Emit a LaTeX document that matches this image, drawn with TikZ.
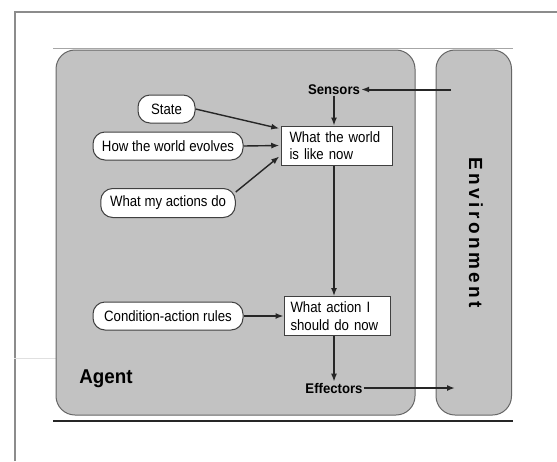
\documentclass[tikz,border=0pt]{standalone}
\usepackage{fontspec}
\setmainfont{Liberation Sans}
\newfontfamily\boxfont[FakeStretch=0.88]{Liberation Sans}
\newfontfamily\lblfont[FakeStretch=0.94]{Liberation Sans}
\newfontfamily\envfont[LetterSpace=18]{Liberation Sans}
\usetikzlibrary{arrows.meta,calc}
\begin{document}
\begin{tikzpicture}[x=1pt,y=-1pt,
  rbox/.style={draw=black!75,line width=1pt,fill=white,rounded corners=12pt,inner sep=0pt,font=\boxfont\fontsize{15}{17}\selectfont},
  sbox/.style={draw=black!75,line width=1pt,fill=white,inner sep=0pt,font=\boxfont\fontsize{15}{17.3}\selectfont,align=left},
  lbl/.style={font=\lblfont\fontsize{14}{16}\selectfont\bfseries,inner sep=1pt},
  arr/.style={-{Latex[length=8pt,width=6pt]},line width=1.4pt,black!85},
  big/.style={-{Latex[length=8pt,width=6pt]},line width=2pt,black!85},
  panel/.style={draw=black!60,line width=1pt,fill=black!24,rounded corners=19pt}]
\useasboundingbox[fill=white] (0,0) rectangle (557,461);
% outer frame
\draw[black!45,line width=1.5pt] (15,461) -- (15,12) -- (557,12);
\draw[black!12,line width=1pt] (14,358) -- (56,358);
% panels
\draw[black!35,line width=1pt] (53,48.5) -- (513,48.5);
\node[panel,minimum width=359pt,minimum height=365pt,inner sep=0pt] (agent) at (235.5,232.5) {};
\node[panel,minimum width=75.5pt,minimum height=365pt,inner sep=0pt] (env) at (473.75,232.5) {};
\draw[black!85,line width=2pt] (53,420.5) -- (513,420.5);
% labels
\node[font=\lblfont\fontsize{20}{22}\selectfont\bfseries] (agtxt) at (106,379) {Agent};
\node[rotate=-90,font=\envfont\fontsize{19}{21}\selectfont\bfseries] (envtxt) at (476,233) {Environment};
\node[lbl] (sens) at (334,89.5) {Sensors};
\node[lbl] (eff) at (334,388) {Effectors};
\coordinate (ein) at (451,89.5);
\coordinate (eout) at (455,388);
% boxes
\node[rbox,minimum width=57pt,minimum height=28pt] (st) at (166.5,109) {State};
\node[rbox,minimum width=150pt,minimum height=28pt] (hw) at (168,146) {How the world evolves};
\node[rbox,minimum width=134.5pt,minimum height=29pt] (wm) at (168,203) {What my actions do};
\node[rbox,minimum width=150pt,minimum height=28pt] (cr) at (168,316) {Condition-action rules};
\node[sbox,minimum width=110.5pt,minimum height=39pt,text width=95pt] (b1) at (337,145.5) {What the world\\is like now};
\node[sbox,minimum width=106pt,minimum height=39pt,text width=93pt] (b2) at (337,316) {What action I\\should do now};
% connectors
\draw[big] (ein) -- (sens.east);
\draw[arr] (sens.south) -- (sens.south |- b1.north);
\draw[arr] (st.east) -- ([xshift=-2pt,yshift=17pt]b1.west);
\draw[arr] (hw.east) -- ([xshift=-2pt]b1.west);
\draw[arr] ([yshift=11pt]wm.east) -- ([xshift=-2pt,yshift=-11pt]b1.west);
\draw[arr] (b1.south -| sens.south) -- (b2.north -| sens.south);
\draw[arr] (cr.east) -- (b2.west);
\draw[arr] (b2.south -| sens.south) -- (eff.north);
\draw[big] (eff.east) -- (eout);
\end{tikzpicture}
\end{document}
